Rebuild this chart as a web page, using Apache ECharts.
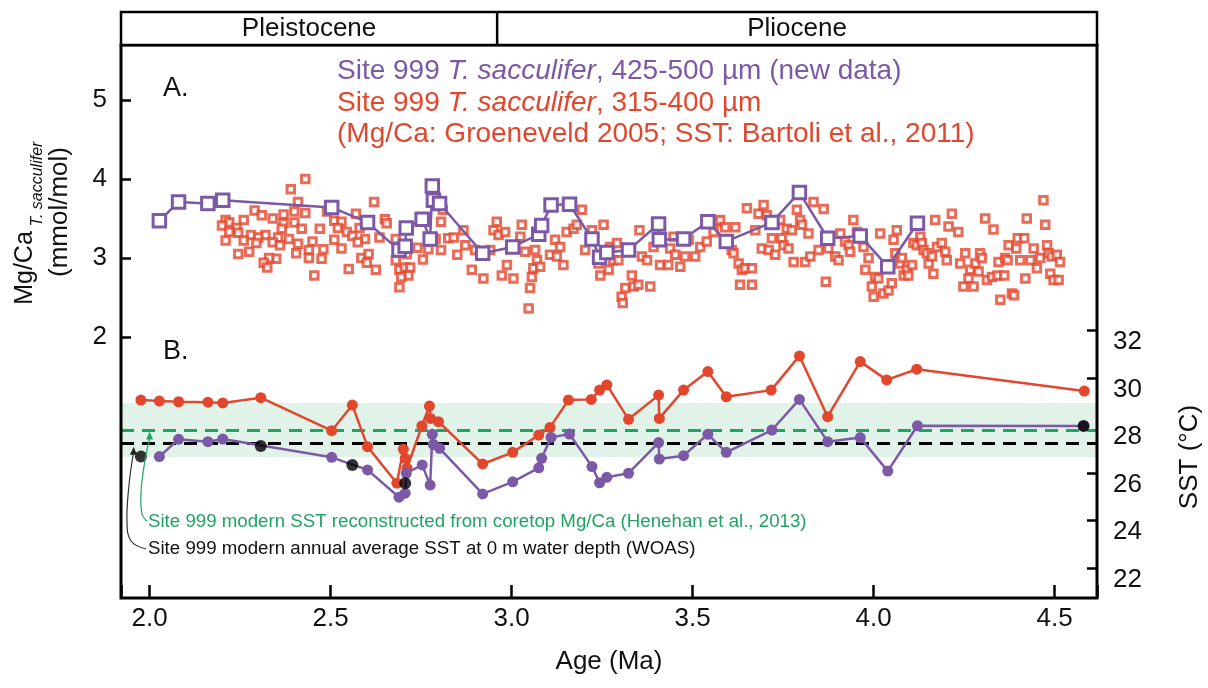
<!DOCTYPE html>
<html><head><meta charset="utf-8">
<script src="https://cdn.jsdelivr.net/npm/echarts@6/dist/echarts.min.js"></script>
<style>html,body{margin:0;padding:0;background:#fff}#c{width:1208px;height:688px}</style>
</head><body><div id="c"></div>
<script>
// ---------- DATA ----------
const ageTickLabels = ['2.0','2.5','3.0','3.5','4.0','4.5'];
const mgTicks = [2,3,4,5];
const sstTicks = [22,24,26,28,30,32];
const epochNames = ['Pleistocene','Pliocene'];
const epochBoundaryAge = 2.96;

// Panel A: red T. sacculifer 315-400 um Mg/Ca (Groeneveld 2005)
const redAge = [
2.43,2.39,2.62,2.41,2.29,2.40,2.43,2.37,2.31,2.34,
2.26,2.21,2.22,2.20,2.24,2.37,2.40,2.42,2.365,2.47,
2.49,2.51,2.53,2.57,2.52,2.545,2.58,2.65,2.655,2.22,
2.245,2.28,2.32,2.30,2.355,2.385,2.34,2.26,2.21,2.295,
2.36,2.41,2.45,2.51,2.56,2.595,2.575,2.635,2.68,2.53,
2.48,2.44,2.405,2.275,2.245,2.35,2.33,2.315,2.325,2.44,
2.475,2.585,2.605,2.60,2.625,2.55,2.455,2.68,2.69,2.705,
2.72,2.715,2.695,2.69,2.71,2.755,2.74,2.77,2.805,2.81,
2.825,2.805,2.84,2.85,2.79,
2.867,2.872,2.890,2.922,2.899,2.941,2.950,2.959,2.964,2.982,
2.973,2.987,3.005,3.024,3.028,3.037,3.056,3.060,3.051,3.047,
3.065,3.070,3.079,3.106,3.120,3.134,3.125,3.143,3.152,3.171,
3.180,3.194,3.222,3.203,3.240,3.245,3.254,3.268,3.272,3.281,
3.291,3.295,3.304,3.307,3.314,3.332,3.337,3.350,3.353,3.360,
3.374,3.383,3.392,3.410,3.433,3.447,3.438,3.452,3.466,3.479,
3.489,3.507,3.521,3.539,3.558,3.567,3.576,3.590,3.608,3.613,
3.618,3.627,3.636,3.631,3.645,3.664,3.664,3.650,3.673,3.682,
3.696,3.705,3.691,3.710,3.719,3.728,3.728,
3.742,3.746,3.751,3.765,3.760,3.774,3.779,3.788,3.797,3.802,
3.811,3.820,3.825,3.834,3.848,3.862,3.868,3.875,3.894,3.903,
3.908,3.921,3.931,3.935,3.944,3.954,3.972,3.977,3.986,3.995,
4.000,4.004,4.013,4.018,4.027,4.041,4.050,4.055,4.060,4.064,
4.073,4.078,4.083,4.092,4.106,4.096,4.110,4.119,4.129,4.133,
4.138,4.147,4.152,4.161,4.170,4.165,4.175,4.188,4.198,4.202,
4.207,4.216,4.234,4.239,4.248,4.253,4.262,4.267,4.276,4.281,
4.290,4.294,4.299,4.308,4.313,4.331,4.327,4.342,4.345,4.350,
4.361,4.363,4.370,4.373,4.382,4.388,4.394,4.398,4.405,4.419,
4.416,4.423,4.433,4.442,4.451,4.460,4.469,4.474,4.479,4.483,
4.488,4.492,4.497,4.506,4.511,4.515
];
const redMg = [
4.00,3.87,3.71,3.71,3.60,3.59,3.57,3.55,3.54,3.50,
3.48,3.48,3.45,3.41,3.38,3.44,3.45,3.37,3.37,3.37,
3.59,3.47,3.46,3.56,3.38,3.33,3.38,3.49,3.44,3.33,
3.32,3.29,3.29,3.26,3.26,3.24,3.20,3.22,3.22,3.19,
3.16,3.18,3.21,3.23,3.28,3.24,3.20,3.26,3.24,3.12,
3.11,3.10,3.06,3.08,3.05,2.99,3.00,2.94,2.88,3.00,
2.99,3.00,3.05,2.94,2.85,2.86,2.78,2.97,2.85,2.88,
2.88,2.78,2.76,2.63,3.05,2.98,3.13,3.11,3.46,3.61,
3.25,3.10,3.26,3.04,3.24,
3.35,3.16,2.85,2.74,3.10,3.10,3.35,3.46,3.29,3.33,
2.78,2.91,2.74,3.27,3.42,3.08,2.76,2.87,2.62,2.36,
3.10,2.97,2.89,3.04,3.23,3.14,3.02,2.91,3.33,3.37,
3.42,3.61,3.35,3.10,2.93,2.78,3.42,2.85,3.14,2.97,
3.19,2.97,2.51,2.43,2.62,2.78,2.64,2.66,3.35,3.02,
2.97,2.64,3.14,2.91,2.91,3.27,3.12,3.04,2.89,3.02,
3.23,3.02,3.14,3.21,3.33,3.46,3.48,3.39,3.10,3.06,
3.39,2.93,2.85,2.66,2.87,2.87,2.66,3.63,3.35,3.56,
3.67,3.54,3.12,3.10,3.25,3.04,3.44,
3.48,3.25,3.16,3.12,3.37,3.35,2.95,3.61,3.48,3.42,
2.95,3.31,3.02,3.71,3.10,3.62,2.70,3.12,3.02,2.97,
3.31,3.21,3.16,3.08,3.48,3.33,3.14,2.85,3.00,2.64,
2.51,2.76,2.74,3.31,2.55,2.59,2.68,3.23,3.06,3.35,
2.93,3.00,2.78,2.85,2.91,2.78,3.19,3.16,3.27,3.19,
3.10,3.06,2.93,3.02,3.48,2.80,3.14,3.19,3.08,2.97,
3.40,3.56,3.33,2.93,2.64,3.06,2.74,2.85,2.64,2.93,
2.83,3.06,3.00,3.50,2.72,3.36,2.76,2.78,2.95,2.47,
2.78,3.00,2.97,3.16,2.55,2.53,3.12,3.25,2.97,2.74,
3.25,3.50,2.97,3.12,2.87,3.00,3.73,3.42,3.16,3.06,
2.80,3.02,2.72,3.04,2.72,2.95
];

// Panel A: purple T. sacculifer 425-500 um (new data)
const purpleAgeA = [2.027,2.080,2.161,2.202,2.503,2.602,2.689,2.706,2.709,2.753,2.775,2.781,2.784,2.801,2.920,3.003,3.075,3.083,3.109,3.160,3.222,3.243,3.263,3.323,3.406,3.408,3.475,3.542,3.593,3.719,3.795,3.873,3.963,4.039,4.121];
const purpleMg   = [3.47,3.71,3.69,3.73,3.64,3.45,3.10,3.15,3.38,3.49,3.24,3.91,3.73,3.69,3.06,3.14,3.30,3.41,3.67,3.68,3.24,3.01,3.07,3.10,3.43,3.23,3.24,3.46,3.21,3.45,3.83,3.25,3.28,2.89,3.44];

// Panel B: SST
const purpleAgeB = [2.027,2.080,2.161,2.202,2.503,2.602,2.689,2.706,2.709,2.753,2.775,2.781,2.784,2.801,2.920,3.003,3.075,3.083,3.109,3.160,3.222,3.243,3.263,3.323,3.406,3.408,3.475,3.542,3.593,3.719,3.795,3.873,3.963,4.039,4.121,4.580];
const purpleSST  = [26.69,27.42,27.32,27.43,26.66,26.13,24.98,25.15,25.99,26.34,25.49,27.63,27.20,27.04,25.12,25.63,26.22,26.62,27.50,27.64,26.27,25.59,25.82,25.99,27.28,26.59,26.73,27.63,26.87,27.81,29.10,27.32,27.49,26.08,27.99,27.98];
const redAgeB = [1.976,2.027,2.080,2.161,2.202,2.307,2.503,2.560,2.602,2.683,2.701,2.706,2.711,2.752,2.773,2.776,2.798,2.920,3.003,3.075,3.106,3.157,3.220,3.243,3.263,3.323,3.406,3.408,3.475,3.542,3.593,3.717,3.795,3.873,3.963,4.036,4.119,4.582];
const redSST  = [29.07,29.03,29.00,28.98,28.95,29.17,27.78,28.86,27.11,25.57,27.00,26.62,26.20,27.98,28.82,28.30,28.16,26.38,26.87,27.60,27.92,29.07,29.10,29.49,29.71,28.26,29.28,28.30,29.49,30.27,29.21,29.49,30.93,28.37,30.69,29.92,30.37,29.45];
const blackAge = [1.976,2.307,2.560,2.706,4.580];
const blackSST = [26.69,27.14,26.34,25.57,27.98];

const coretopSST = 27.81;      // green dashed
const coretopBand = [26.67, 28.95];
const woasSST = 27.26;         // black dashed

// ---------- STYLE ----------
const FONT = '"Liberation Sans", Arial, Helvetica, sans-serif';
const PURPLE = '#7b59a7', RED = '#e2472d', GREEN = '#1fa463', BAND = '#e1f3e9', INK = '#111';
const X_MIN = 1.921, X_MAX = 4.617;
const GL = 121, GW = 976;

const zip = (a, b) => a.map((v, i) => [v, b[i]]);

function hiddenX(gi){ return {gridIndex:gi, type:'value', min:X_MIN, max:X_MAX, show:false, splitLine:{show:false}}; }

const option = {
  animation:false,
  backgroundColor:'#fff',
  textStyle:{fontFamily:FONT},
  grid:[
    {left:GL, top:45, width:GW, height:553, outerBoundsMode:'none'},
    {left:GL, top:100, width:GW, height:237, outerBoundsMode:'none'},
    {left:GL, top:330.5, width:GW, height:237.5, outerBoundsMode:'none'}
  ],
  xAxis:[
    {gridIndex:0, type:'value', min:X_MIN, max:X_MAX, minInterval:0.5, maxInterval:0.5,
     axisLine:{show:false}, splitLine:{show:false},
     axisTick:{show:true, inside:true, length:13, lineStyle:{color:'#000', width:2.5}},
     axisLabel:{fontSize:26, color:INK, margin:8, fontFamily:FONT,
       formatter:function(v){ const s=v.toFixed(1); return (ageTickLabels.indexOf(s)>=0 && Math.abs(v-parseFloat(s))<1e-6)? s : ''; }},
     name:'Age (Ma)', nameLocation:'middle', nameGap:51,
     nameTextStyle:{fontSize:26, color:INK, fontFamily:FONT}},
    hiddenX(1), hiddenX(2)
  ],
  yAxis:[
    {gridIndex:0, type:'value', min:0, max:1, show:false, splitLine:{show:false}},
    {gridIndex:1, type:'value', min:mgTicks[0], max:mgTicks[mgTicks.length-1], interval:1, position:'left',
     axisLine:{show:false}, splitLine:{show:false},
     axisTick:{inside:true, length:10, lineStyle:{color:'#000', width:2.5}},
     axisLabel:{fontSize:26, color:INK, margin:14, fontFamily:FONT}},
    {gridIndex:2, type:'value', min:sstTicks[0], max:sstTicks[sstTicks.length-1], interval:2, position:'right',
     axisLine:{show:false}, splitLine:{show:false},
     axisTick:{inside:true, length:10, lineStyle:{color:'#000', width:2.5}},
     axisLabel:{fontSize:26, color:INK, margin:16, verticalAlign:'top', lineHeight:23, fontFamily:FONT}}
  ],
  series:[
    // band
    {type:'line', xAxisIndex:2, yAxisIndex:2, data:[], z:1, silent:true,
     markArea:{silent:true, itemStyle:{color:BAND}, data:[[{yAxis:coretopBand[0]},{yAxis:coretopBand[1]}]]}},
    // dashed reference lines
    {type:'line', xAxisIndex:2, yAxisIndex:2, data:[], z:2, silent:true,
     markLine:{silent:true, symbol:['none','none'], label:{show:false}, animation:false,
       data:[
         {yAxis:woasSST, lineStyle:{color:'#000', type:[13,8], width:3}},
         {yAxis:coretopSST, lineStyle:{color:GREEN, type:[13,8], width:3}}
       ]}},
    // panel A
    {name:'red315', type:'scatter', xAxisIndex:1, yAxisIndex:1, data:zip(redAge, redMg),
     symbol:'rect', symbolSize:7.5, itemStyle:{color:'#fff', borderColor:RED, borderWidth:3}, z:3, silent:true, clip:false},
    {name:'purple425', type:'line', xAxisIndex:1, yAxisIndex:1, data:zip(purpleAgeA, purpleMg),
     symbol:'rect', symbolSize:12.5, showAllSymbol:true,
     itemStyle:{color:'#fff', borderColor:PURPLE, borderWidth:3}, lineStyle:{color:PURPLE, width:2.5}, z:4, silent:true, clip:false},
    // panel B
    {name:'redSST', type:'line', xAxisIndex:2, yAxisIndex:2, data:zip(redAgeB, redSST),
     symbol:'circle', symbolSize:11, showAllSymbol:true,
     itemStyle:{color:RED}, lineStyle:{color:RED, width:2.5}, z:5, silent:true, clip:false},
    {name:'purpleSST', type:'line', xAxisIndex:2, yAxisIndex:2, data:zip(purpleAgeB, purpleSST),
     symbol:'circle', symbolSize:11, showAllSymbol:true,
     itemStyle:{color:PURPLE}, lineStyle:{color:PURPLE, width:2.5}, z:6, silent:true, clip:false},
    {name:'black', type:'scatter', xAxisIndex:2, yAxisIndex:2, data:zip(blackAge, blackSST),
     symbol:'circle', symbolSize:12, itemStyle:{color:'#000'}, z:7, silent:true, clip:false}
  ]
};

const chart = echarts.init(document.getElementById('c'), null, {renderer:'canvas', width:1208, height:688});
chart.setOption(option);

// ---------- annotations / frame ----------
const bx = chart.convertToPixel({xAxisIndex:0}, epochBoundaryAge);
const gTip = chart.convertToPixel({gridIndex:2}, [2.0, 27.66]);
const kTip = chart.convertToPixel({gridIndex:2}, [1.955, 27.02]);
const txt = (x, y, text, size, fill, extra) => ({type:'text', x:x, y:y, z:200, silent:true,
  style:Object.assign({text:text, fontSize:size, fontFamily:FONT, fill:fill, align:'left', verticalAlign:'middle'}, (extra||{}))});

const graphics = [
  // plot frame
  {type:'rect', z:150, silent:true, shape:{x:GL, y:45, width:GW, height:553}, style:{fill:null, stroke:'#000', lineWidth:3}},
  // epoch band
  {type:'rect', z:150, silent:true, shape:{x:GL, y:12, width:GW, height:33}, style:{fill:'#fff', stroke:'#000', lineWidth:2.5}},
  {type:'line', z:151, silent:true, shape:{x1:bx, y1:12, x2:bx, y2:45}, style:{stroke:'#000', lineWidth:2.5}},
  txt((GL+bx)/2, 29, epochNames[0], 26, INK, {align:'center'}),
  txt((bx+GL+GW)/2, 29, epochNames[1], 26, INK, {align:'center'}),
  // panel labels
  txt(163, 89, 'A.', 27, INK),
  txt(163, 352, 'B.', 27, INK),
  // legend
  {type:'text', x:337, y:71, z:200, silent:true, style:{text:'{n|Site 999 }{i|T. sacculifer}{n|, 425-500 µm (new data)}', verticalAlign:'middle',
    rich:{n:{fontSize:28, fontFamily:FONT, fill:PURPLE}, i:{fontSize:28, fontFamily:FONT, fontStyle:'italic', fill:PURPLE}}}},
  {type:'text', x:337, y:103, z:200, silent:true, style:{text:'{n|Site 999 }{i|T. sacculifer}{n|, 315-400 µm}', verticalAlign:'middle',
    rich:{n:{fontSize:28, fontFamily:FONT, fill:RED}, i:{fontSize:28, fontFamily:FONT, fontStyle:'italic', fill:RED}}}},
  txt(337, 134, '(Mg/Ca: Groeneveld 2005; SST: Bartoli et al., 2011)', 28, RED),
  // annotations
  txt(148, 522, 'Site 999 modern SST reconstructed from coretop Mg/Ca (Henehan et al., 2013)', 18.7, GREEN),
  txt(148, 549, 'Site 999 modern annual average SST at 0 m water depth (WOAS)', 18.7, INK),
  {type:'polyline', z:190, silent:true, shape:{points:[[147,521],[142,514],[141,492],[145,460],[gTip[0], gTip[1]+5]], smooth:0.4},
   style:{stroke:GREEN, lineWidth:1.2, fill:null}},
  {type:'polygon', z:190, silent:true, shape:{points:[[gTip[0], gTip[1]-2],[gTip[0]-3.5, gTip[1]+6],[gTip[0]+3.5, gTip[1]+6]]}, style:{fill:GREEN}},
  {type:'polyline', z:190, silent:true, shape:{points:[[146,549],[131,541],[127,522],[129,485],[kTip[0], kTip[1]+5]], smooth:0.4},
   style:{stroke:'#333', lineWidth:1.2, fill:null}},
  {type:'polygon', z:190, silent:true, shape:{points:[[kTip[0]+0.5, kTip[1]-2],[kTip[0]-3.5, kTip[1]+6],[kTip[0]+3.5, kTip[1]+6]]}, style:{fill:'#222'}},
  // axis names
  {type:'text', x:25, y:268, rotation:Math.PI/2, z:200, silent:true, style:{text:'Mg/Ca', fontSize:25, fontFamily:FONT, fill:INK, align:'center', verticalAlign:'middle'}},
  {type:'text', x:38, y:184, rotation:Math.PI/2, z:200, silent:true, style:{text:'T. sacculifer', fontSize:16, fontStyle:'italic', fontFamily:FONT, fill:INK, align:'center', verticalAlign:'middle'}},
  {type:'text', x:60, y:212, rotation:Math.PI/2, z:200, silent:true, style:{text:'(mmol/mol)', fontSize:26, fontFamily:FONT, fill:INK, align:'center', verticalAlign:'middle'}},
  {type:'text', x:1190, y:457, rotation:Math.PI/2, z:200, silent:true, style:{text:'SST (°C)', fontSize:26, fontFamily:FONT, fill:INK, align:'center', verticalAlign:'middle'}}
];
chart.setOption({graphic:graphics});
</script>
</body></html>
